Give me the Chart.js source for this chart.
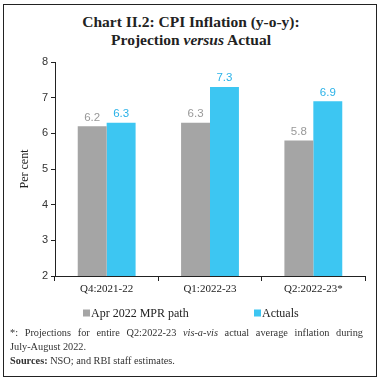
<!DOCTYPE html>
<html><head><meta charset="utf-8">
<script src="https://cdn.jsdelivr.net/npm/chart.js@4.4.0/dist/chart.umd.min.js"></script>
<style>
html,body{margin:0;padding:0;background:#fff;}
#wrap{position:relative;width:382px;height:381px;overflow:hidden;background:#fff;}
#frame{position:absolute;left:3px;top:4px;width:374px;height:373px;box-sizing:border-box;border:1.5px solid #222;}
#title{position:absolute;left:0;top:13px;width:382px;text-align:center;font:bold 15.5px 'Liberation Serif',serif;line-height:18px;color:#222;}
#note{position:absolute;left:10px;top:326px;width:353px;font:10.3px 'Liberation Serif',serif;line-height:14px;color:#333;}
#note p{margin:0;}
#note .j{text-align:justify;text-align-last:left;}
#note .nw{white-space:nowrap;}
canvas{position:absolute;left:0;top:0;}
</style></head>
<body>
<div id="wrap">
<div id="frame"></div>
<div id="title">Chart II.2: CPI Inflation (y-o-y):<br>Projection <i>versus</i> Actual</div>
<canvas id="c" width="382" height="381"></canvas>
<div id="note"><p class="j">*: Projections for entire Q2:2022-23 <i>vis-a-vis</i> actual average inflation during <span class="nw">July-August</span> 2022.</p><p><b>Sources:</b> NSO; and RBI staff estimates.</p></div>
</div>
<script>
const categories = ['Q4:2021-22', 'Q1:2022-23', 'Q2:2022-23*'];
const seriesNames = ['Apr 2022 MPR path', 'Actuals'];
const projection = [6.2, 6.3, 5.8];
const actuals = [6.3, 7.3, 6.9];
const yTicks = [2, 3, 4, 5, 6, 7, 8];
const yTitle = 'Per cent';

const barColors = ['#a5a5a5', '#3dc6f2'];
const labelColors = ['#999999', '#2ab2e8'];

const dataLabels = {
  id: 'dataLabels',
  afterDatasetsDraw(chart) {
    const ctx = chart.ctx;
    ctx.save();
    ctx.font = "11.5px 'Liberation Sans', sans-serif";
    ctx.textAlign = 'center';
    ctx.textBaseline = 'bottom';
    chart.data.datasets.forEach((ds, i) => {
      const meta = chart.getDatasetMeta(i);
      ctx.fillStyle = labelColors[i];
      meta.data.forEach((bar, j) => {
        ctx.fillText(ds.data[j].toFixed(1), bar.x, bar.y - 3);
      });
    });
    ctx.restore();
  }
};

const customLegend = {
  id: 'customLegend',
  afterDraw(chart) {
    const ctx = chart.ctx;
    ctx.save();
    ctx.font = "12px 'Liberation Serif', serif";
    ctx.textBaseline = 'middle';
    const pos = [83, 254];
    const y = 313;
    chart.data.datasets.forEach((ds, i) => {
      ctx.fillStyle = barColors[i];
      ctx.fillRect(pos[i], y - 3.5, 7, 7);
      ctx.fillStyle = '#222';
      ctx.fillText(ds.label, pos[i] + 8, y + 0.5);
    });
    // y-axis title
    const a = chart.chartArea;
    ctx.translate(25, (a.top + a.bottom) / 2);
    ctx.rotate(-Math.PI / 2);
    ctx.textAlign = 'center';
    ctx.fillStyle = '#222';
    ctx.font = "12px 'Liberation Serif', serif";
    ctx.fillText(yTitle, 0, 0);
    ctx.restore();
  }
};

new Chart(document.getElementById('c'), {
  type: 'bar',
  data: {
    labels: categories,
    datasets: [
      { label: seriesNames[0], data: projection, backgroundColor: barColors[0] },
      { label: seriesNames[1], data: actuals, backgroundColor: barColors[1] }
    ]
  },
  options: {
    responsive: false,
    animation: false,
    devicePixelRatio: 1,
    layout: { padding: { top: 62, right: 17, left: 0, bottom: 75 } },
    datasets: { bar: { categoryPercentage: 0.56, barPercentage: 1 } },
    plugins: { legend: { display: false }, title: { display: false }, tooltip: { enabled: false } },
    scales: {
      x: {
        afterFit(s) { s.height = 30; },
        grid: { offset: true, drawOnChartArea: false, color: '#222', tickLength: 5, lineWidth: 1 },
        border: { color: '#222', width: 1 },
        ticks: { color: '#222', font: { family: "'Liberation Serif', serif", size: 11 }, padding: 2, maxRotation: 0 }
      },
      y: {
        min: 2, max: 8,
        afterFit(s) { s.width = 55; },
        afterBuildTicks(s) { s.ticks = yTicks.map(v => ({ value: v })); },
        grid: { drawOnChartArea: false, color: '#222', tickLength: 4 },
        border: { color: '#222', width: 1 },
        ticks: { color: '#333', font: { family: "'Liberation Sans', sans-serif", size: 11 }, padding: 3 }
      }
    }
  },
  plugins: [dataLabels, customLegend]
});
</script>
</body></html>
